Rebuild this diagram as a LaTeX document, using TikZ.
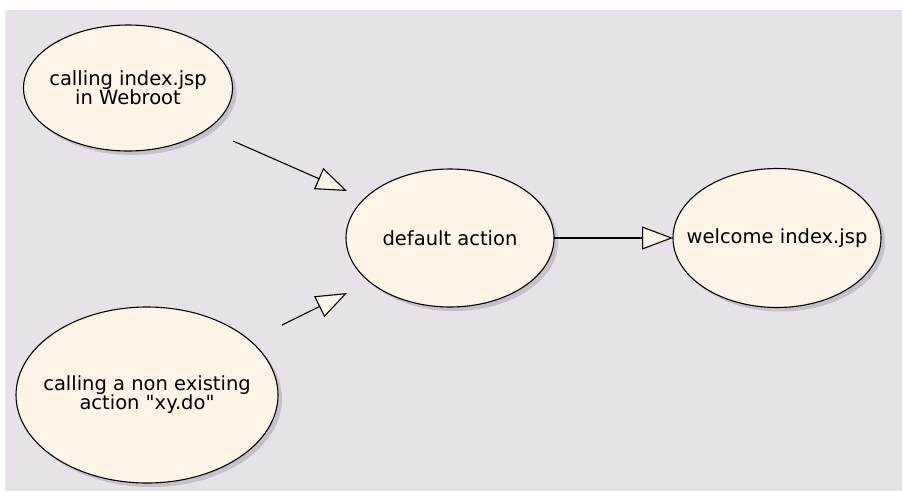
\documentclass[tikz,border=0pt]{standalone}
\usepackage{fontspec}
\setmainfont{DejaVu Sans}
\usetikzlibrary{shapes.geometric,arrows.meta,shadows}
\definecolor{bgcol}{HTML}{E7E2E8}
\definecolor{nodefill}{HTML}{FDF3E7}
\definecolor{shadowcol}{HTML}{C5C0C9}
\tikzset{
  usecase/.style={ellipse, draw=black, line width=1.1pt, fill=nodefill, inner sep=0pt, outer sep=0pt,
    drop shadow={shadow xshift=4pt, shadow yshift=-4pt, fill=shadowcol, opacity=1}},
  uctext/.style={align=center, inner sep=0pt, font=\fontsize{19.5}{19}\selectfont},
  conn/.style={draw=black, line width=1.1pt,
    -{Triangle[length=31pt, width=23pt, fill=nodefill, line width=1.1pt]}},
}
\begin{document}
\begin{tikzpicture}[x=1pt,y=-1pt]
  \useasboundingbox (0,0) rectangle (902,491);
  \fill[white] (0,0) rectangle (902,491);
  \fill[bgcol] (5,10) rectangle (902,491);
  \node[usecase, minimum width=209pt, minimum height=126pt,
    label={[uctext]center:calling index.jsp\\in Webroot}] (e1) at (128,88) {};
  \node[usecase, minimum width=262pt, minimum height=176pt,
    label={[uctext]center:calling a non existing\\action \textquotedbl xy.do\textquotedbl}] (e2) at (147,395) {};
  \node[usecase, minimum width=208pt, minimum height=138pt,
    label={[uctext]center:default action}] (e3) at (450,238) {};
  \node[usecase, minimum width=208pt, minimum height=139pt,
    label={[uctext]center:welcome index.jsp}] (e4) at (777,238) {};
  \coordinate (s1) at (233,141);
  \coordinate (t1) at (347,191);
  \coordinate (s2) at (282,325);
  \coordinate (t2) at (347,293);
  \draw[conn] (s1) -- (t1);
  \draw[conn] (s2) -- (t2);
  \draw[conn] (e3.east) -- (e4.west);
\end{tikzpicture}
\end{document}
